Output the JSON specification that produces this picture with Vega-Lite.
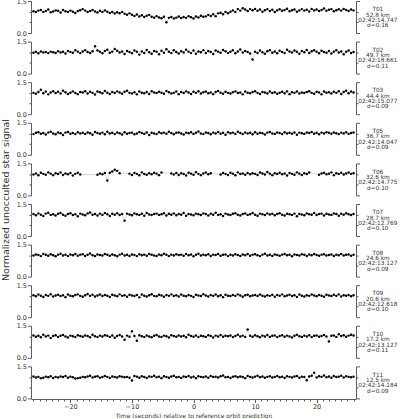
{
"$schema": "https://vega.github.io/schema/vega-lite/v6.json",
"padding": {"left": 0, "top": -2, "right": 0, "bottom": 0},
"config": {"font": "DejaVu Sans", "view": {"stroke": null},
 "axis": {"grid": false, "domainColor": "#333", "tickColor": "#333", "labelColor": "#333", "labelFontSize": 6.5, "domainWidth": 0.8, "tickWidth": 0.8, "titleFontWeight": "normal", "titleColor": "#333", "titleFontSize": 6, "labelOverlap": false}},
"datasets": {
"info": [
{"p":1,"lab":"T01|52.8 km|02:42:14.747|σ=0.16"},
{"p":2,"lab":"T02|49.7 km|02:42:18.661|σ=0.11"},
{"p":3,"lab":"T03|44.4 km|02:42:15.077|σ=0.09"},
{"p":4,"lab":"T05|36.7 km|02:42:14.047|σ=0.09"},
{"p":5,"lab":"T06|32.6 km|02:42:14.775|σ=0.10"},
{"p":6,"lab":"T07|28.7 km|02:42:12.769|σ=0.10"},
{"p":7,"lab":"T08|24.6 km|02:42:13.127|σ=0.09"},
{"p":8,"lab":"T09|20.6 km|02:42:12.618|σ=0.10"},
{"p":9,"lab":"T10|17.2 km|02:42:13.127|σ=0.11"},
{"p":10,"lab":"T11|12.5 km|02:42:14.184|σ=0.09"}
],
"pts": [
{"p":1,"t":-26,"v":1.02},{"p":1,"t":-25.6,"v":0.98},{"p":1,"t":-25.2,"v":1.05},{"p":1,"t":-24.8,"v":1.08},{"p":1,"t":-24.4,"v":0.99},{"p":1,"t":-24,"v":1.03},{"p":1,"t":-23.6,"v":1.10},{"p":1,"t":-23.2,"v":0.97},{"p":1,"t":-22.8,"v":1.01},{"p":1,"t":-22.4,"v":1.06},
{"p":1,"t":-22,"v":1.04},{"p":1,"t":-21.6,"v":0.96},{"p":1,"t":-21.2,"v":1.08},{"p":1,"t":-20.8,"v":1.02},{"p":1,"t":-20.4,"v":0.99},{"p":1,"t":-20,"v":1.05},{"p":1,"t":-19.6,"v":1.00},{"p":1,"t":-19.2,"v":0.94},{"p":1,"t":-18.8,"v":1.03},{"p":1,"t":-18.4,"v":1.07},
{"p":1,"t":-18,"v":1.12},{"p":1,"t":-17.6,"v":1.05},{"p":1,"t":-17.2,"v":0.98},{"p":1,"t":-16.8,"v":1.03},{"p":1,"t":-16.4,"v":1.08},{"p":1,"t":-16,"v":1.01},{"p":1,"t":-15.6,"v":0.96},{"p":1,"t":-15.2,"v":1.04},{"p":1,"t":-14.8,"v":0.99},{"p":1,"t":-14.4,"v":1.06},
{"p":1,"t":-14,"v":1.00},{"p":1,"t":-13.6,"v":0.94},{"p":1,"t":-13.2,"v":0.98},{"p":1,"t":-12.8,"v":0.91},{"p":1,"t":-12.4,"v":0.97},{"p":1,"t":-12,"v":0.93},{"p":1,"t":-11.6,"v":0.99},{"p":1,"t":-11.2,"v":0.90},{"p":1,"t":-10.8,"v":0.86},{"p":1,"t":-10.4,"v":0.92},
{"p":1,"t":-10,"v":0.86},{"p":1,"t":-9.6,"v":0.80},{"p":1,"t":-9.2,"v":0.87},{"p":1,"t":-8.8,"v":0.77},{"p":1,"t":-8.4,"v":0.83},{"p":1,"t":-8,"v":0.75},{"p":1,"t":-7.6,"v":0.81},{"p":1,"t":-7.2,"v":0.85},{"p":1,"t":-6.8,"v":0.76},{"p":1,"t":-6.4,"v":0.72},
{"p":1,"t":-6,"v":0.79},{"p":1,"t":-5.6,"v":0.73},{"p":1,"t":-5.2,"v":0.69},{"p":1,"t":-4.8,"v":0.76},{"p":1,"t":-4.4,"v":0.50},{"p":1,"t":-4,"v":0.71},{"p":1,"t":-3.6,"v":0.75},{"p":1,"t":-3.2,"v":0.68},{"p":1,"t":-2.8,"v":0.72},{"p":1,"t":-2.4,"v":0.77},
{"p":1,"t":-2,"v":0.70},{"p":1,"t":-1.6,"v":0.75},{"p":1,"t":-1.2,"v":0.71},{"p":1,"t":-0.8,"v":0.79},{"p":1,"t":-0.4,"v":0.74},{"p":1,"t":0,"v":0.68},{"p":1,"t":0.4,"v":0.77},{"p":1,"t":0.8,"v":0.73},{"p":1,"t":1.2,"v":0.81},{"p":1,"t":1.6,"v":0.76},
{"p":1,"t":2,"v":0.78},{"p":1,"t":2.4,"v":0.85},{"p":1,"t":2.8,"v":0.80},{"p":1,"t":3.2,"v":0.88},{"p":1,"t":3.6,"v":0.79},{"p":1,"t":4,"v":0.92},{"p":1,"t":4.4,"v":0.95},{"p":1,"t":4.8,"v":0.88},{"p":1,"t":5.2,"v":0.99},{"p":1,"t":5.6,"v":0.93},
{"p":1,"t":6,"v":1.00},{"p":1,"t":6.4,"v":1.06},{"p":1,"t":6.8,"v":0.98},{"p":1,"t":7.2,"v":1.12},{"p":1,"t":7.6,"v":1.05},{"p":1,"t":8,"v":1.16},{"p":1,"t":8.4,"v":1.10},{"p":1,"t":8.8,"v":1.03},{"p":1,"t":9.2,"v":1.12},{"p":1,"t":9.6,"v":1.07},
{"p":1,"t":10,"v":1.13},{"p":1,"t":10.4,"v":1.04},{"p":1,"t":10.8,"v":1.10},{"p":1,"t":11.2,"v":1.00},{"p":1,"t":11.6,"v":1.07},{"p":1,"t":12,"v":1.12},{"p":1,"t":12.4,"v":1.03},{"p":1,"t":12.8,"v":1.09},{"p":1,"t":13.2,"v":0.98},{"p":1,"t":13.6,"v":1.06},
{"p":1,"t":14,"v":1.11},{"p":1,"t":14.4,"v":1.04},{"p":1,"t":14.8,"v":1.08},{"p":1,"t":15.2,"v":1.14},{"p":1,"t":15.6,"v":1.02},{"p":1,"t":16,"v":1.07},{"p":1,"t":16.4,"v":1.10},{"p":1,"t":16.8,"v":1.00},{"p":1,"t":17.2,"v":1.06},{"p":1,"t":17.6,"v":1.12},
{"p":1,"t":18,"v":1.05},{"p":1,"t":18.4,"v":1.09},{"p":1,"t":18.8,"v":1.01},{"p":1,"t":19.2,"v":1.13},{"p":1,"t":19.6,"v":1.06},{"p":1,"t":20,"v":1.10},{"p":1,"t":20.4,"v":1.03},{"p":1,"t":20.8,"v":1.08},{"p":1,"t":21.2,"v":1.15},{"p":1,"t":21.6,"v":1.04},
{"p":1,"t":22,"v":1.09},{"p":1,"t":22.4,"v":1.12},{"p":1,"t":22.8,"v":1.02},{"p":1,"t":23.2,"v":1.07},{"p":1,"t":23.6,"v":1.11},{"p":1,"t":24,"v":1.05},{"p":1,"t":24.4,"v":1.13},{"p":1,"t":24.8,"v":1.08},{"p":1,"t":25.2,"v":1.03},{"p":1,"t":25.6,"v":1.10},{"p":1,"t":26,"v":1.06},
{"p":2,"t":-26,"v":0.98},{"p":2,"t":-25.6,"v":1.02},{"p":2,"t":-25.2,"v":0.95},{"p":2,"t":-24.8,"v":1.04},{"p":2,"t":-24.4,"v":0.99},{"p":2,"t":-24,"v":1.01},{"p":2,"t":-23.6,"v":0.96},{"p":2,"t":-23.2,"v":1.03},{"p":2,"t":-22.8,"v":1.00},{"p":2,"t":-22.4,"v":0.97},
{"p":2,"t":-22,"v":1.05},{"p":2,"t":-21.6,"v":0.99},{"p":2,"t":-21.2,"v":1.02},{"p":2,"t":-20.8,"v":0.94},{"p":2,"t":-20.4,"v":1.06},{"p":2,"t":-20,"v":1.01},{"p":2,"t":-19.6,"v":0.98},{"p":2,"t":-19.2,"v":1.09},{"p":2,"t":-18.8,"v":1.03},{"p":2,"t":-18.4,"v":0.96},
{"p":2,"t":-18,"v":1.04},{"p":2,"t":-17.6,"v":1.10},{"p":2,"t":-17.2,"v":1.01},{"p":2,"t":-16.8,"v":0.97},{"p":2,"t":-16.4,"v":1.05},{"p":2,"t":-16,"v":1.28},{"p":2,"t":-15.6,"v":1.08},{"p":2,"t":-15.2,"v":1.02},{"p":2,"t":-14.8,"v":0.95},{"p":2,"t":-14.4,"v":1.06},
{"p":2,"t":-14,"v":1.12},{"p":2,"t":-13.6,"v":0.98},{"p":2,"t":-13.2,"v":1.03},{"p":2,"t":-12.8,"v":1.15},{"p":2,"t":-12.4,"v":1.07},{"p":2,"t":-12,"v":0.99},{"p":2,"t":-11.6,"v":1.04},{"p":2,"t":-11.2,"v":0.92},{"p":2,"t":-10.8,"v":1.06},{"p":2,"t":-10.4,"v":1.01},
{"p":2,"t":-10,"v":0.95},{"p":2,"t":-9.6,"v":1.08},{"p":2,"t":-9.2,"v":1.02},{"p":2,"t":-8.8,"v":0.89},{"p":2,"t":-8.4,"v":1.04},{"p":2,"t":-8,"v":0.97},{"p":2,"t":-7.6,"v":1.11},{"p":2,"t":-7.2,"v":1.00},{"p":2,"t":-6.8,"v":0.93},{"p":2,"t":-6.4,"v":1.06},
{"p":2,"t":-6,"v":1.03},{"p":2,"t":-5.6,"v":0.91},{"p":2,"t":-5.2,"v":1.07},{"p":2,"t":-4.8,"v":0.98},{"p":2,"t":-4.4,"v":1.14},{"p":2,"t":-4,"v":1.02},{"p":2,"t":-3.6,"v":0.96},{"p":2,"t":-3.2,"v":1.09},{"p":2,"t":-2.8,"v":1.01},{"p":2,"t":-2.4,"v":0.94},
{"p":2,"t":-2,"v":1.05},{"p":2,"t":-1.6,"v":0.99},{"p":2,"t":-1.2,"v":1.12},{"p":2,"t":-0.8,"v":1.03},{"p":2,"t":-0.4,"v":0.96},{"p":2,"t":0,"v":1.08},{"p":2,"t":0.4,"v":0.93},{"p":2,"t":0.8,"v":1.04},{"p":2,"t":1.2,"v":1.00},{"p":2,"t":1.6,"v":1.10},
{"p":2,"t":2,"v":0.97},{"p":2,"t":2.4,"v":1.06},{"p":2,"t":2.8,"v":1.01},{"p":2,"t":3.2,"v":0.92},{"p":2,"t":3.6,"v":1.08},{"p":2,"t":4,"v":1.03},{"p":2,"t":4.4,"v":0.98},{"p":2,"t":4.8,"v":1.11},{"p":2,"t":5.2,"v":1.05},{"p":2,"t":5.6,"v":0.96},
{"p":2,"t":6,"v":1.02},{"p":2,"t":6.4,"v":1.09},{"p":2,"t":6.8,"v":0.95},{"p":2,"t":7.2,"v":1.04},{"p":2,"t":7.6,"v":1.13},{"p":2,"t":8,"v":0.99},{"p":2,"t":8.4,"v":1.06},{"p":2,"t":8.8,"v":1.01},{"p":2,"t":9.2,"v":0.94},{"p":2,"t":9.6,"v":0.66},
{"p":2,"t":10,"v":1.03},{"p":2,"t":10.4,"v":0.97},{"p":2,"t":10.8,"v":1.08},{"p":2,"t":11.2,"v":1.00},{"p":2,"t":11.6,"v":0.93},{"p":2,"t":12,"v":1.05},{"p":2,"t":12.4,"v":1.10},{"p":2,"t":12.8,"v":0.98},{"p":2,"t":13.2,"v":1.04},{"p":2,"t":13.6,"v":0.95},
{"p":2,"t":14,"v":1.07},{"p":2,"t":14.4,"v":1.01},{"p":2,"t":14.8,"v":0.96},{"p":2,"t":15.2,"v":1.12},{"p":2,"t":15.6,"v":1.04},{"p":2,"t":16,"v":0.99},{"p":2,"t":16.4,"v":1.08},{"p":2,"t":16.8,"v":1.02},{"p":2,"t":17.2,"v":0.93},{"p":2,"t":17.6,"v":1.06},
{"p":2,"t":18,"v":1.00},{"p":2,"t":18.4,"v":1.11},{"p":2,"t":18.8,"v":0.97},{"p":2,"t":19.2,"v":1.05},{"p":2,"t":19.6,"v":1.09},{"p":2,"t":20,"v":1.02},{"p":2,"t":20.4,"v":0.95},{"p":2,"t":20.8,"v":1.07},{"p":2,"t":21.2,"v":1.01},{"p":2,"t":21.6,"v":0.98},
{"p":2,"t":22,"v":1.06},{"p":2,"t":22.4,"v":0.94},{"p":2,"t":22.8,"v":1.03},{"p":2,"t":23.2,"v":1.10},{"p":2,"t":23.6,"v":0.99},{"p":2,"t":24,"v":1.04},{"p":2,"t":24.4,"v":0.91},{"p":2,"t":24.8,"v":1.02},{"p":2,"t":25.2,"v":1.08},{"p":2,"t":25.6,"v":0.97},{"p":2,"t":26,"v":1.01},
{"p":3,"t":-26,"v":1.00},{"p":3,"t":-25.6,"v":0.96},{"p":3,"t":-25.2,"v":1.04},{"p":3,"t":-24.8,"v":1.15},{"p":3,"t":-24.4,"v":0.98},{"p":3,"t":-24,"v":1.06},{"p":3,"t":-23.6,"v":0.93},{"p":3,"t":-23.2,"v":1.02},{"p":3,"t":-22.8,"v":1.08},{"p":3,"t":-22.4,"v":0.99},
{"p":3,"t":-22,"v":1.05},{"p":3,"t":-21.6,"v":0.97},{"p":3,"t":-21.2,"v":1.10},{"p":3,"t":-20.8,"v":1.03},{"p":3,"t":-20.4,"v":0.95},{"p":3,"t":-20,"v":1.01},{"p":3,"t":-19.6,"v":1.07},{"p":3,"t":-19.2,"v":0.99},{"p":3,"t":-18.8,"v":0.94},{"p":3,"t":-18.4,"v":1.04},
{"p":3,"t":-18,"v":1.02},{"p":3,"t":-17.6,"v":1.08},{"p":3,"t":-17.2,"v":0.97},{"p":3,"t":-16.8,"v":1.05},{"p":3,"t":-16.4,"v":1.00},{"p":3,"t":-16,"v":0.92},{"p":3,"t":-15.6,"v":1.06},{"p":3,"t":-15.2,"v":1.03},{"p":3,"t":-14.8,"v":0.98},{"p":3,"t":-14.4,"v":1.09},
{"p":3,"t":-14,"v":1.01},{"p":3,"t":-13.6,"v":0.95},{"p":3,"t":-13.2,"v":1.04},{"p":3,"t":-12.8,"v":0.99},{"p":3,"t":-12.4,"v":1.07},{"p":3,"t":-12,"v":1.02},{"p":3,"t":-11.6,"v":0.96},{"p":3,"t":-11.2,"v":1.05},{"p":3,"t":-10.8,"v":1.10},{"p":3,"t":-10.4,"v":1.00},
{"p":3,"t":-10,"v":0.97},{"p":3,"t":-9.6,"v":1.03},{"p":3,"t":-9.2,"v":0.93},{"p":3,"t":-8.8,"v":1.06},{"p":3,"t":-8.4,"v":1.01},{"p":3,"t":-8,"v":0.98},{"p":3,"t":-7.6,"v":1.04},{"p":3,"t":-7.2,"v":0.95},{"p":3,"t":-6.8,"v":1.08},{"p":3,"t":-6.4,"v":1.02},
{"p":3,"t":-6,"v":0.99},{"p":3,"t":-5.6,"v":1.05},{"p":3,"t":-5.2,"v":1.01},{"p":3,"t":-4.8,"v":0.96},{"p":3,"t":-4.4,"v":1.09},{"p":3,"t":-4,"v":1.03},{"p":3,"t":-3.6,"v":0.97},{"p":3,"t":-3.2,"v":1.00},{"p":3,"t":-2.8,"v":1.06},{"p":3,"t":-2.4,"v":0.94},
{"p":3,"t":-2,"v":1.04},{"p":3,"t":-1.6,"v":0.99},{"p":3,"t":-1.2,"v":1.07},{"p":3,"t":-0.8,"v":1.02},{"p":3,"t":-0.4,"v":0.95},{"p":3,"t":0,"v":1.05},{"p":3,"t":0.4,"v":1.00},{"p":3,"t":0.8,"v":1.08},{"p":3,"t":1.2,"v":0.97},{"p":3,"t":1.6,"v":1.03},
{"p":3,"t":2,"v":1.06},{"p":3,"t":2.4,"v":0.98},{"p":3,"t":2.8,"v":1.02},{"p":3,"t":3.2,"v":0.94},{"p":3,"t":3.6,"v":1.04},{"p":3,"t":4,"v":1.09},{"p":3,"t":4.4,"v":1.01},{"p":3,"t":4.8,"v":0.96},{"p":3,"t":5.2,"v":1.05},{"p":3,"t":5.6,"v":1.00},
{"p":3,"t":6,"v":0.97},{"p":3,"t":6.4,"v":1.03},{"p":3,"t":6.8,"v":1.07},{"p":3,"t":7.2,"v":0.99},{"p":3,"t":7.6,"v":1.02},{"p":3,"t":8,"v":0.93},{"p":3,"t":8.4,"v":1.06},{"p":3,"t":8.8,"v":1.01},{"p":3,"t":9.2,"v":0.98},{"p":3,"t":9.6,"v":1.04},
{"p":3,"t":10,"v":1.08},{"p":3,"t":10.4,"v":1.00},{"p":3,"t":10.8,"v":0.95},{"p":3,"t":11.2,"v":1.04},{"p":3,"t":11.6,"v":1.02},{"p":3,"t":12,"v":0.97},{"p":3,"t":12.4,"v":1.06},{"p":3,"t":12.8,"v":0.99},{"p":3,"t":13.2,"v":1.03},{"p":3,"t":13.6,"v":0.96},
{"p":3,"t":14,"v":1.01},{"p":3,"t":14.4,"v":1.05},{"p":3,"t":14.8,"v":0.98},{"p":3,"t":15.2,"v":1.07},{"p":3,"t":15.6,"v":0.94},{"p":3,"t":16,"v":1.03},{"p":3,"t":16.4,"v":1.00},{"p":3,"t":16.8,"v":1.06},{"p":3,"t":17.2,"v":0.97},{"p":3,"t":17.6,"v":1.02},
{"p":3,"t":18,"v":0.99},{"p":3,"t":18.4,"v":1.04},{"p":3,"t":18.8,"v":1.08},{"p":3,"t":19.2,"v":1.00},{"p":3,"t":19.6,"v":0.96},{"p":3,"t":20,"v":1.05},{"p":3,"t":20.4,"v":1.02},{"p":3,"t":20.8,"v":0.93},{"p":3,"t":21.2,"v":1.06},{"p":3,"t":21.6,"v":1.01},
{"p":3,"t":22,"v":1.03},{"p":3,"t":22.4,"v":0.97},{"p":3,"t":22.8,"v":1.05},{"p":3,"t":23.2,"v":1.00},{"p":3,"t":23.6,"v":1.08},{"p":3,"t":24,"v":0.95},{"p":3,"t":24.4,"v":1.04},{"p":3,"t":24.8,"v":1.10},{"p":3,"t":25.2,"v":0.98},{"p":3,"t":25.6,"v":1.06},{"p":3,"t":26,"v":1.02},
{"p":4,"t":-26,"v":0.97},{"p":4,"t":-25.6,"v":1.03},{"p":4,"t":-25.2,"v":1.06},{"p":4,"t":-24.8,"v":0.99},{"p":4,"t":-24.4,"v":1.02},{"p":4,"t":-24,"v":0.95},{"p":4,"t":-23.6,"v":1.04},{"p":4,"t":-23.2,"v":1.08},{"p":4,"t":-22.8,"v":1.00},{"p":4,"t":-22.4,"v":0.96},
{"p":4,"t":-22,"v":1.05},{"p":4,"t":-21.6,"v":1.01},{"p":4,"t":-21.2,"v":0.93},{"p":4,"t":-20.8,"v":1.04},{"p":4,"t":-20.4,"v":1.07},{"p":4,"t":-20,"v":0.99},{"p":4,"t":-19.6,"v":1.02},{"p":4,"t":-19.2,"v":0.97},{"p":4,"t":-18.8,"v":1.06},{"p":4,"t":-18.4,"v":1.00},
{"p":4,"t":-18,"v":1.03},{"p":4,"t":-17.6,"v":0.98},{"p":4,"t":-17.2,"v":1.05},{"p":4,"t":-16.8,"v":1.01},{"p":4,"t":-16.4,"v":0.94},{"p":4,"t":-16,"v":1.07},{"p":4,"t":-15.6,"v":1.02},{"p":4,"t":-15.2,"v":0.99},{"p":4,"t":-14.8,"v":1.04},{"p":4,"t":-14.4,"v":0.96},
{"p":4,"t":-14,"v":1.08},{"p":4,"t":-13.6,"v":1.00},{"p":4,"t":-13.2,"v":1.03},{"p":4,"t":-12.8,"v":0.97},{"p":4,"t":-12.4,"v":1.05},{"p":4,"t":-12,"v":1.01},{"p":4,"t":-11.6,"v":0.95},{"p":4,"t":-11.2,"v":1.06},{"p":4,"t":-10.8,"v":0.99},{"p":4,"t":-10.4,"v":1.02},
{"p":4,"t":-10,"v":1.04},{"p":4,"t":-9.6,"v":0.96},{"p":4,"t":-9.2,"v":1.00},{"p":4,"t":-8.8,"v":1.07},{"p":4,"t":-8.4,"v":1.02},{"p":4,"t":-8,"v":0.98},{"p":4,"t":-7.6,"v":1.05},{"p":4,"t":-7.2,"v":0.93},{"p":4,"t":-6.8,"v":1.03},{"p":4,"t":-6.4,"v":1.00},
{"p":4,"t":-6,"v":0.97},{"p":4,"t":-5.6,"v":1.06},{"p":4,"t":-5.2,"v":1.01},{"p":4,"t":-4.8,"v":1.04},{"p":4,"t":-4.4,"v":0.99},{"p":4,"t":-4,"v":1.08},{"p":4,"t":-3.6,"v":1.02},{"p":4,"t":-3.2,"v":0.96},{"p":4,"t":-2.8,"v":1.03},{"p":4,"t":-2.4,"v":1.05},
{"p":4,"t":-2,"v":1.00},{"p":4,"t":-1.6,"v":0.95},{"p":4,"t":-1.2,"v":1.04},{"p":4,"t":-0.8,"v":1.01},{"p":4,"t":-0.4,"v":1.06},{"p":4,"t":0,"v":0.98},{"p":4,"t":0.4,"v":1.03},{"p":4,"t":0.8,"v":1.09},{"p":4,"t":1.2,"v":1.00},{"p":4,"t":1.6,"v":0.97},
{"p":4,"t":2,"v":1.05},{"p":4,"t":2.4,"v":1.02},{"p":4,"t":2.8,"v":0.96},{"p":4,"t":3.2,"v":1.04},{"p":4,"t":3.6,"v":1.00},{"p":4,"t":4,"v":1.07},{"p":4,"t":4.4,"v":0.99},{"p":4,"t":4.8,"v":1.03},{"p":4,"t":5.2,"v":0.94},{"p":4,"t":5.6,"v":1.06},
{"p":4,"t":6,"v":1.01},{"p":4,"t":6.4,"v":1.04},{"p":4,"t":6.8,"v":0.98},{"p":4,"t":7.2,"v":1.08},{"p":4,"t":7.6,"v":1.02},{"p":4,"t":8,"v":0.97},{"p":4,"t":8.4,"v":1.05},{"p":4,"t":8.8,"v":1.00},{"p":4,"t":9.2,"v":1.03},{"p":4,"t":9.6,"v":0.96},
{"p":4,"t":10,"v":1.06},{"p":4,"t":10.4,"v":0.99},{"p":4,"t":10.8,"v":1.03},{"p":4,"t":11.2,"v":1.01},{"p":4,"t":11.6,"v":0.95},{"p":4,"t":12,"v":1.04},{"p":4,"t":12.4,"v":1.07},{"p":4,"t":12.8,"v":1.00},{"p":4,"t":13.2,"v":0.98},{"p":4,"t":13.6,"v":1.05},
{"p":4,"t":14,"v":1.02},{"p":4,"t":14.4,"v":0.97},{"p":4,"t":14.8,"v":1.06},{"p":4,"t":15.2,"v":1.00},{"p":4,"t":15.6,"v":1.03},{"p":4,"t":16,"v":0.99},{"p":4,"t":16.4,"v":1.05},{"p":4,"t":16.8,"v":0.94},{"p":4,"t":17.2,"v":1.04},{"p":4,"t":17.6,"v":1.01},
{"p":4,"t":18,"v":0.98},{"p":4,"t":18.4,"v":1.05},{"p":4,"t":18.8,"v":1.02},{"p":4,"t":19.2,"v":1.07},{"p":4,"t":19.6,"v":0.99},{"p":4,"t":20,"v":1.03},{"p":4,"t":20.4,"v":0.96},{"p":4,"t":20.8,"v":1.04},{"p":4,"t":21.2,"v":1.00},{"p":4,"t":21.6,"v":1.06},
{"p":4,"t":22,"v":1.03},{"p":4,"t":22.4,"v":0.99},{"p":4,"t":22.8,"v":1.05},{"p":4,"t":23.2,"v":1.01},{"p":4,"t":23.6,"v":0.97},{"p":4,"t":24,"v":1.04},{"p":4,"t":24.4,"v":1.00},{"p":4,"t":24.8,"v":1.06},{"p":4,"t":25.2,"v":0.98},{"p":4,"t":25.6,"v":1.02},{"p":4,"t":26,"v":1.05},
{"p":5,"t":-26,"v":0.98},{"p":5,"t":-25.6,"v":1.03},{"p":5,"t":-25.2,"v":0.94},{"p":5,"t":-24.8,"v":1.06},{"p":5,"t":-24.4,"v":1.01},{"p":5,"t":-24,"v":0.97},{"p":5,"t":-23.6,"v":1.08},{"p":5,"t":-23.2,"v":1.02},{"p":5,"t":-22.8,"v":0.95},{"p":5,"t":-22.4,"v":1.04},
{"p":5,"t":-22,"v":1.00},{"p":5,"t":-21.6,"v":1.07},{"p":5,"t":-21.2,"v":0.96},{"p":5,"t":-20.8,"v":1.03},{"p":5,"t":-20.4,"v":0.99},{"p":5,"t":-20,"v":1.05},{"p":5,"t":-19.6,"v":0.93},{"p":5,"t":-19.2,"v":1.01},{"p":5,"t":-18.8,"v":1.06},{"p":5,"t":-18.4,"v":0.98},
{"p":5,"t":-15.6,"v":0.97},{"p":5,"t":-15.2,"v":1.03},{"p":5,"t":-14.8,"v":0.99},{"p":5,"t":-14.4,"v":1.05},
{"p":5,"t":-14,"v":0.70},{"p":5,"t":-13.6,"v":1.06},{"p":5,"t":-13.2,"v":1.12},{"p":5,"t":-12.8,"v":1.20},{"p":5,"t":-12.4,"v":1.15},{"p":5,"t":-12,"v":1.04},{"p":5,"t":-10.4,"v":1.02},
{"p":5,"t":-10,"v":0.96},{"p":5,"t":-9.6,"v":1.05},{"p":5,"t":-9.2,"v":1.01},{"p":5,"t":-8.8,"v":0.94},{"p":5,"t":-8.4,"v":1.08},{"p":5,"t":-8,"v":1.00},{"p":5,"t":-7.6,"v":0.97},{"p":5,"t":-7.2,"v":1.04},{"p":5,"t":-6.8,"v":0.99},{"p":5,"t":-6.4,"v":1.06},
{"p":5,"t":-6,"v":1.02},{"p":5,"t":-5.6,"v":0.95},{"p":5,"t":-5.2,"v":1.07},{"p":5,"t":-3.6,"v":1.03},{"p":5,"t":-3.2,"v":0.98},{"p":5,"t":-2.8,"v":1.05},{"p":5,"t":-2.4,"v":0.96},
{"p":5,"t":-2,"v":1.04},{"p":5,"t":-1.6,"v":1.00},{"p":5,"t":-1.2,"v":0.93},{"p":5,"t":-0.8,"v":1.06},{"p":5,"t":-0.4,"v":1.02},{"p":5,"t":0,"v":0.97},{"p":5,"t":0.4,"v":1.09},{"p":5,"t":0.8,"v":1.01},{"p":5,"t":1.2,"v":0.95},{"p":5,"t":1.6,"v":1.03},
{"p":5,"t":2,"v":1.07},{"p":5,"t":2.4,"v":0.99},{"p":5,"t":2.8,"v":1.04},{"p":5,"t":4.4,"v":0.98},{"p":5,"t":4.8,"v":1.05},{"p":5,"t":5.2,"v":1.01},{"p":5,"t":5.6,"v":0.96},
{"p":5,"t":6,"v":1.06},{"p":5,"t":6.4,"v":1.02},{"p":5,"t":6.8,"v":0.94},{"p":5,"t":7.2,"v":1.08},{"p":5,"t":7.6,"v":1.00},{"p":5,"t":8,"v":1.03},{"p":5,"t":8.4,"v":0.97},{"p":5,"t":8.8,"v":1.05},{"p":5,"t":9.2,"v":0.99},{"p":5,"t":9.6,"v":1.04},
{"p":5,"t":10,"v":1.01},{"p":5,"t":10.4,"v":0.96},{"p":5,"t":10.8,"v":1.07},{"p":5,"t":11.2,"v":1.03},{"p":5,"t":11.6,"v":0.98},{"p":5,"t":12,"v":1.10},{"p":5,"t":12.4,"v":1.02},{"p":5,"t":12.8,"v":0.95},{"p":5,"t":13.2,"v":1.04},{"p":5,"t":13.6,"v":1.00},
{"p":5,"t":14,"v":1.06},{"p":5,"t":14.4,"v":0.99},{"p":5,"t":14.8,"v":1.03},{"p":5,"t":15.2,"v":0.93},{"p":5,"t":15.6,"v":1.05},{"p":5,"t":16,"v":1.01},{"p":5,"t":16.4,"v":0.97},{"p":5,"t":16.8,"v":1.08},{"p":5,"t":17.2,"v":1.02},{"p":5,"t":17.6,"v":0.96},
{"p":5,"t":18,"v":1.04},{"p":5,"t":18.4,"v":1.00},{"p":5,"t":18.8,"v":1.07},{"p":5,"t":20.4,"v":0.97},{"p":5,"t":20.8,"v":1.03},{"p":5,"t":21.2,"v":1.06},{"p":5,"t":21.6,"v":0.99},
{"p":5,"t":22,"v":1.02},{"p":5,"t":22.4,"v":1.08},{"p":5,"t":22.8,"v":0.95},{"p":5,"t":23.2,"v":1.04},{"p":5,"t":23.6,"v":1.00},{"p":5,"t":24,"v":1.06},{"p":5,"t":24.4,"v":0.98},{"p":5,"t":24.8,"v":1.03},{"p":5,"t":25.2,"v":1.07},{"p":5,"t":25.6,"v":1.01},{"p":5,"t":26,"v":1.04},
{"p":6,"t":-26,"v":1.03},{"p":6,"t":-25.6,"v":0.97},{"p":6,"t":-25.2,"v":1.06},{"p":6,"t":-24.8,"v":1.00},{"p":6,"t":-24.4,"v":0.94},{"p":6,"t":-24,"v":1.05},{"p":6,"t":-23.6,"v":1.09},{"p":6,"t":-23.2,"v":0.99},{"p":6,"t":-22.8,"v":1.02},{"p":6,"t":-22.4,"v":0.96},
{"p":6,"t":-22,"v":1.04},{"p":6,"t":-21.6,"v":1.08},{"p":6,"t":-21.2,"v":1.00},{"p":6,"t":-20.8,"v":0.95},{"p":6,"t":-20.4,"v":1.03},{"p":6,"t":-20,"v":1.07},{"p":6,"t":-19.6,"v":0.98},{"p":6,"t":-19.2,"v":1.02},{"p":6,"t":-18.8,"v":0.93},{"p":6,"t":-18.4,"v":1.05},
{"p":6,"t":-18,"v":1.01},{"p":6,"t":-17.6,"v":0.97},{"p":6,"t":-17.2,"v":1.06},{"p":6,"t":-16.8,"v":1.10},{"p":6,"t":-16.4,"v":1.00},{"p":6,"t":-16,"v":1.03},{"p":6,"t":-15.6,"v":0.96},{"p":6,"t":-15.2,"v":1.05},{"p":6,"t":-14.8,"v":0.99},{"p":6,"t":-14.4,"v":1.08},
{"p":6,"t":-14,"v":1.02},{"p":6,"t":-13.6,"v":0.94},{"p":6,"t":-13.2,"v":1.04},{"p":6,"t":-12.8,"v":1.00},{"p":6,"t":-12.4,"v":1.07},{"p":6,"t":-12,"v":0.98},{"p":6,"t":-11.6,"v":1.03},{"p":6,"t":-11.2,"v":0.72},{"p":6,"t":-10.8,"v":1.05},{"p":6,"t":-10.4,"v":1.01},
{"p":6,"t":-10,"v":0.97},{"p":6,"t":-9.6,"v":1.06},{"p":6,"t":-9.2,"v":1.02},{"p":6,"t":-8.8,"v":0.99},{"p":6,"t":-8.4,"v":1.04},{"p":6,"t":-8,"v":0.95},{"p":6,"t":-7.6,"v":1.08},{"p":6,"t":-7.2,"v":1.01},{"p":6,"t":-6.8,"v":0.98},{"p":6,"t":-6.4,"v":1.03},
{"p":6,"t":-6,"v":1.05},{"p":6,"t":-5.6,"v":0.99},{"p":6,"t":-5.2,"v":1.02},{"p":6,"t":-4.8,"v":1.07},{"p":6,"t":-4.4,"v":0.96},{"p":6,"t":-4,"v":1.04},{"p":6,"t":-3.6,"v":1.00},{"p":6,"t":-3.2,"v":1.06},{"p":6,"t":-2.8,"v":0.97},{"p":6,"t":-2.4,"v":1.03},
{"p":6,"t":-2,"v":1.00},{"p":6,"t":-1.6,"v":1.08},{"p":6,"t":-1.2,"v":0.95},{"p":6,"t":-0.8,"v":1.03},{"p":6,"t":-0.4,"v":1.01},{"p":6,"t":0,"v":0.97},{"p":6,"t":0.4,"v":1.05},{"p":6,"t":0.8,"v":1.02},{"p":6,"t":1.2,"v":0.98},{"p":6,"t":1.6,"v":1.06},
{"p":6,"t":2,"v":1.03},{"p":6,"t":2.4,"v":0.96},{"p":6,"t":2.8,"v":1.04},{"p":6,"t":3.2,"v":1.00},{"p":6,"t":3.6,"v":1.09},{"p":6,"t":4,"v":0.99},{"p":6,"t":4.4,"v":1.02},{"p":6,"t":4.8,"v":0.94},{"p":6,"t":5.2,"v":1.05},{"p":6,"t":5.6,"v":1.01},
{"p":6,"t":6,"v":0.98},{"p":6,"t":6.4,"v":1.04},{"p":6,"t":6.8,"v":1.07},{"p":6,"t":7.2,"v":1.00},{"p":6,"t":7.6,"v":0.96},{"p":6,"t":8,"v":1.03},{"p":6,"t":8.4,"v":1.06},{"p":6,"t":8.8,"v":0.99},{"p":6,"t":9.2,"v":1.02},{"p":6,"t":9.6,"v":1.08},
{"p":6,"t":10,"v":1.00},{"p":6,"t":10.4,"v":0.95},{"p":6,"t":10.8,"v":1.05},{"p":6,"t":11.2,"v":1.02},{"p":6,"t":11.6,"v":0.98},{"p":6,"t":12,"v":1.06},{"p":6,"t":12.4,"v":1.01},{"p":6,"t":12.8,"v":1.04},{"p":6,"t":13.2,"v":0.97},{"p":6,"t":13.6,"v":1.03},
{"p":6,"t":14,"v":1.07},{"p":6,"t":14.4,"v":1.00},{"p":6,"t":14.8,"v":0.96},{"p":6,"t":15.2,"v":1.04},{"p":6,"t":15.6,"v":1.02},{"p":6,"t":16,"v":0.99},{"p":6,"t":16.4,"v":1.05},{"p":6,"t":16.8,"v":0.93},{"p":6,"t":17.2,"v":1.03},{"p":6,"t":17.6,"v":1.01},
{"p":6,"t":18,"v":0.97},{"p":6,"t":18.4,"v":1.06},{"p":6,"t":18.8,"v":1.02},{"p":6,"t":19.2,"v":1.00},{"p":6,"t":19.6,"v":1.08},{"p":6,"t":20,"v":0.98},{"p":6,"t":20.4,"v":1.03},{"p":6,"t":20.8,"v":1.05},{"p":6,"t":21.2,"v":0.96},{"p":6,"t":21.6,"v":1.04},
{"p":6,"t":22,"v":1.01},{"p":6,"t":22.4,"v":0.99},{"p":6,"t":22.8,"v":1.06},{"p":6,"t":23.2,"v":1.03},{"p":6,"t":23.6,"v":0.95},{"p":6,"t":24,"v":1.04},{"p":6,"t":24.4,"v":1.00},{"p":6,"t":24.8,"v":1.07},{"p":6,"t":25.2,"v":1.02},{"p":6,"t":25.6,"v":0.98},{"p":6,"t":26,"v":1.03},
{"p":7,"t":-26,"v":0.99},{"p":7,"t":-25.6,"v":1.04},{"p":7,"t":-25.2,"v":1.01},{"p":7,"t":-24.8,"v":0.96},{"p":7,"t":-24.4,"v":1.06},{"p":7,"t":-24,"v":1.02},{"p":7,"t":-23.6,"v":0.98},{"p":7,"t":-23.2,"v":1.05},{"p":7,"t":-22.8,"v":1.00},{"p":7,"t":-22.4,"v":0.95},
{"p":7,"t":-22,"v":1.03},{"p":7,"t":-21.6,"v":1.07},{"p":7,"t":-21.2,"v":0.99},{"p":7,"t":-20.8,"v":1.02},{"p":7,"t":-20.4,"v":0.96},{"p":7,"t":-20,"v":1.04},{"p":7,"t":-19.6,"v":1.00},{"p":7,"t":-19.2,"v":1.06},{"p":7,"t":-18.8,"v":0.98},{"p":7,"t":-18.4,"v":1.03},
{"p":7,"t":-18,"v":1.05},{"p":7,"t":-17.6,"v":0.97},{"p":7,"t":-17.2,"v":1.02},{"p":7,"t":-16.8,"v":1.08},{"p":7,"t":-16.4,"v":1.00},{"p":7,"t":-16,"v":0.96},{"p":7,"t":-15.6,"v":1.04},{"p":7,"t":-15.2,"v":1.01},{"p":7,"t":-14.8,"v":0.99},{"p":7,"t":-14.4,"v":1.06},
{"p":7,"t":-14,"v":1.02},{"p":7,"t":-13.6,"v":0.98},{"p":7,"t":-13.2,"v":1.04},{"p":7,"t":-12.8,"v":1.00},{"p":7,"t":-12.4,"v":0.95},{"p":7,"t":-12,"v":1.03},{"p":7,"t":-11.6,"v":1.07},{"p":7,"t":-11.2,"v":0.99},{"p":7,"t":-10.8,"v":1.02},{"p":7,"t":-10.4,"v":0.97},
{"p":7,"t":-10,"v":1.04},{"p":7,"t":-9.6,"v":1.01},{"p":7,"t":-9.2,"v":0.96},{"p":7,"t":-8.8,"v":1.05},{"p":7,"t":-8.4,"v":1.00},{"p":7,"t":-8,"v":1.03},{"p":7,"t":-7.6,"v":0.98},{"p":7,"t":-7.2,"v":1.06},{"p":7,"t":-6.8,"v":1.02},{"p":7,"t":-6.4,"v":0.99},
{"p":7,"t":-6,"v":0.97},{"p":7,"t":-5.6,"v":1.04},{"p":7,"t":-5.2,"v":1.00},{"p":7,"t":-4.8,"v":1.07},{"p":7,"t":-4.4,"v":1.02},{"p":7,"t":-4,"v":0.96},{"p":7,"t":-3.6,"v":1.03},{"p":7,"t":-3.2,"v":0.99},{"p":7,"t":-2.8,"v":1.05},{"p":7,"t":-2.4,"v":1.01},
{"p":7,"t":-2,"v":1.03},{"p":7,"t":-1.6,"v":0.98},{"p":7,"t":-1.2,"v":1.06},{"p":7,"t":-0.8,"v":1.00},{"p":7,"t":-0.4,"v":1.04},{"p":7,"t":0,"v":0.95},{"p":7,"t":0.4,"v":1.02},{"p":7,"t":0.8,"v":1.07},{"p":7,"t":1.2,"v":0.99},{"p":7,"t":1.6,"v":1.03},
{"p":7,"t":2,"v":1.00},{"p":7,"t":2.4,"v":1.05},{"p":7,"t":2.8,"v":0.97},{"p":7,"t":3.2,"v":1.03},{"p":7,"t":3.6,"v":1.01},{"p":7,"t":4,"v":1.06},{"p":7,"t":4.4,"v":0.98},{"p":7,"t":4.8,"v":1.02},{"p":7,"t":5.2,"v":1.04},{"p":7,"t":5.6,"v":0.96},
{"p":7,"t":6,"v":1.02},{"p":7,"t":6.4,"v":0.99},{"p":7,"t":6.8,"v":1.05},{"p":7,"t":7.2,"v":1.01},{"p":7,"t":7.6,"v":0.97},{"p":7,"t":8,"v":1.04},{"p":7,"t":8.4,"v":1.00},{"p":7,"t":8.8,"v":1.06},{"p":7,"t":9.2,"v":0.98},{"p":7,"t":9.6,"v":1.03},
{"p":7,"t":10,"v":1.05},{"p":7,"t":10.4,"v":1.00},{"p":7,"t":10.8,"v":0.96},{"p":7,"t":11.2,"v":1.03},{"p":7,"t":11.6,"v":1.07},{"p":7,"t":12,"v":0.99},{"p":7,"t":12.4,"v":1.02},{"p":7,"t":12.8,"v":0.97},{"p":7,"t":13.2,"v":1.04},{"p":7,"t":13.6,"v":1.01},
{"p":7,"t":14,"v":0.98},{"p":7,"t":14.4,"v":1.03},{"p":7,"t":14.8,"v":1.06},{"p":7,"t":15.2,"v":1.00},{"p":7,"t":15.6,"v":1.02},{"p":7,"t":16,"v":0.95},{"p":7,"t":16.4,"v":1.04},{"p":7,"t":16.8,"v":1.01},{"p":7,"t":17.2,"v":0.99},{"p":7,"t":17.6,"v":1.05},
{"p":7,"t":18,"v":1.02},{"p":7,"t":18.4,"v":0.97},{"p":7,"t":18.8,"v":1.04},{"p":7,"t":19.2,"v":1.00},{"p":7,"t":19.6,"v":1.06},{"p":7,"t":20,"v":1.01},{"p":7,"t":20.4,"v":0.98},{"p":7,"t":20.8,"v":1.03},{"p":7,"t":21.2,"v":1.05},{"p":7,"t":21.6,"v":0.99},
{"p":7,"t":22,"v":1.01},{"p":7,"t":22.4,"v":1.04},{"p":7,"t":22.8,"v":0.97},{"p":7,"t":23.2,"v":1.03},{"p":7,"t":23.6,"v":1.00},{"p":7,"t":24,"v":1.06},{"p":7,"t":24.4,"v":0.99},{"p":7,"t":24.8,"v":1.02},{"p":7,"t":25.2,"v":1.04},{"p":7,"t":25.6,"v":0.98},{"p":7,"t":26,"v":1.02},
{"p":8,"t":-26,"v":1.03},{"p":8,"t":-25.6,"v":0.98},{"p":8,"t":-25.2,"v":1.06},{"p":8,"t":-24.8,"v":1.01},{"p":8,"t":-24.4,"v":0.95},{"p":8,"t":-24,"v":1.04},{"p":8,"t":-23.6,"v":1.00},{"p":8,"t":-23.2,"v":1.08},{"p":8,"t":-22.8,"v":0.97},{"p":8,"t":-22.4,"v":1.02},
{"p":8,"t":-22,"v":1.05},{"p":8,"t":-21.6,"v":0.99},{"p":8,"t":-21.2,"v":1.03},{"p":8,"t":-20.8,"v":0.94},{"p":8,"t":-20.4,"v":1.06},{"p":8,"t":-20,"v":1.01},{"p":8,"t":-19.6,"v":0.98},{"p":8,"t":-19.2,"v":1.04},{"p":8,"t":-18.8,"v":1.07},{"p":8,"t":-18.4,"v":1.00},
{"p":8,"t":-18,"v":0.96},{"p":8,"t":-17.6,"v":1.03},{"p":8,"t":-17.2,"v":1.09},{"p":8,"t":-16.8,"v":1.00},{"p":8,"t":-16.4,"v":1.05},{"p":8,"t":-16,"v":0.97},{"p":8,"t":-15.6,"v":1.02},{"p":8,"t":-15.2,"v":1.06},{"p":8,"t":-14.8,"v":0.99},{"p":8,"t":-14.4,"v":1.04},
{"p":8,"t":-14,"v":1.01},{"p":8,"t":-13.6,"v":0.95},{"p":8,"t":-13.2,"v":1.05},{"p":8,"t":-12.8,"v":1.02},{"p":8,"t":-12.4,"v":0.98},{"p":8,"t":-12,"v":1.07},{"p":8,"t":-11.6,"v":1.00},{"p":8,"t":-11.2,"v":1.03},{"p":8,"t":-10.8,"v":0.96},{"p":8,"t":-10.4,"v":1.05},
{"p":8,"t":-10,"v":1.02},{"p":8,"t":-9.6,"v":0.99},{"p":8,"t":-9.2,"v":1.04},{"p":8,"t":-8.8,"v":0.93},{"p":8,"t":-8.4,"v":1.06},{"p":8,"t":-8,"v":1.01},{"p":8,"t":-7.6,"v":0.97},{"p":8,"t":-7.2,"v":1.03},{"p":8,"t":-6.8,"v":1.08},{"p":8,"t":-6.4,"v":1.00},
{"p":8,"t":-6,"v":0.98},{"p":8,"t":-5.6,"v":1.05},{"p":8,"t":-5.2,"v":1.02},{"p":8,"t":-4.8,"v":0.96},{"p":8,"t":-4.4,"v":1.04},{"p":8,"t":-4,"v":1.00},{"p":8,"t":-3.6,"v":1.07},{"p":8,"t":-3.2,"v":0.99},{"p":8,"t":-2.8,"v":1.03},{"p":8,"t":-2.4,"v":0.97},
{"p":8,"t":-2,"v":1.06},{"p":8,"t":-1.6,"v":1.01},{"p":8,"t":-1.2,"v":0.98},{"p":8,"t":-0.8,"v":1.04},{"p":8,"t":-0.4,"v":1.00},{"p":8,"t":0,"v":0.95},{"p":8,"t":0.4,"v":1.05},{"p":8,"t":0.8,"v":1.02},{"p":8,"t":1.2,"v":0.99},{"p":8,"t":1.6,"v":1.08},
{"p":8,"t":2,"v":1.02},{"p":8,"t":2.4,"v":0.97},{"p":8,"t":2.8,"v":1.04},{"p":8,"t":3.2,"v":1.00},{"p":8,"t":3.6,"v":1.06},{"p":8,"t":4,"v":0.98},{"p":8,"t":4.4,"v":1.03},{"p":8,"t":4.8,"v":0.94},{"p":8,"t":5.2,"v":1.05},{"p":8,"t":5.6,"v":1.01},
{"p":8,"t":6,"v":0.99},{"p":8,"t":6.4,"v":1.04},{"p":8,"t":6.8,"v":1.00},{"p":8,"t":7.2,"v":1.07},{"p":8,"t":7.6,"v":1.02},{"p":8,"t":8,"v":0.96},{"p":8,"t":8.4,"v":1.03},{"p":8,"t":8.8,"v":1.05},{"p":8,"t":9.2,"v":0.98},{"p":8,"t":9.6,"v":1.02},
{"p":8,"t":10,"v":1.04},{"p":8,"t":10.4,"v":0.99},{"p":8,"t":10.8,"v":1.06},{"p":8,"t":11.2,"v":1.01},{"p":8,"t":11.6,"v":0.97},{"p":8,"t":12,"v":1.03},{"p":8,"t":12.4,"v":1.00},{"p":8,"t":12.8,"v":1.05},{"p":8,"t":13.2,"v":0.96},{"p":8,"t":13.6,"v":1.04},
{"p":8,"t":14,"v":1.00},{"p":8,"t":14.4,"v":1.07},{"p":8,"t":14.8,"v":0.98},{"p":8,"t":15.2,"v":1.02},{"p":8,"t":15.6,"v":1.05},{"p":8,"t":16,"v":0.99},{"p":8,"t":16.4,"v":1.03},{"p":8,"t":16.8,"v":0.95},{"p":8,"t":17.2,"v":1.06},{"p":8,"t":17.6,"v":1.01},
{"p":8,"t":18,"v":0.97},{"p":8,"t":18.4,"v":1.03},{"p":8,"t":18.8,"v":1.00},{"p":8,"t":19.2,"v":1.06},{"p":8,"t":19.6,"v":1.02},{"p":8,"t":20,"v":0.98},{"p":8,"t":20.4,"v":1.04},{"p":8,"t":20.8,"v":1.01},{"p":8,"t":21.2,"v":0.96},{"p":8,"t":21.6,"v":1.05},
{"p":8,"t":22,"v":1.02},{"p":8,"t":22.4,"v":0.99},{"p":8,"t":22.8,"v":1.05},{"p":8,"t":23.2,"v":1.00},{"p":8,"t":23.6,"v":1.07},{"p":8,"t":24,"v":0.97},{"p":8,"t":24.4,"v":1.03},{"p":8,"t":24.8,"v":1.01},{"p":8,"t":25.2,"v":1.04},{"p":8,"t":25.6,"v":0.98},{"p":8,"t":26,"v":1.03},
{"p":9,"t":-26,"v":1.05},{"p":9,"t":-25.6,"v":0.99},{"p":9,"t":-25.2,"v":1.03},{"p":9,"t":-24.8,"v":0.96},{"p":9,"t":-24.4,"v":1.08},{"p":9,"t":-24,"v":1.00},{"p":9,"t":-23.6,"v":1.04},{"p":9,"t":-23.2,"v":0.93},{"p":9,"t":-22.8,"v":1.02},{"p":9,"t":-22.4,"v":1.06},
{"p":9,"t":-22,"v":0.98},{"p":9,"t":-21.6,"v":1.03},{"p":9,"t":-21.2,"v":1.07},{"p":9,"t":-20.8,"v":1.00},{"p":9,"t":-20.4,"v":0.95},{"p":9,"t":-20,"v":1.04},{"p":9,"t":-19.6,"v":1.01},{"p":9,"t":-19.2,"v":0.97},{"p":9,"t":-18.8,"v":1.06},{"p":9,"t":-18.4,"v":1.02},
{"p":9,"t":-18,"v":0.99},{"p":9,"t":-17.6,"v":1.05},{"p":9,"t":-17.2,"v":1.02},{"p":9,"t":-16.8,"v":0.96},{"p":9,"t":-16.4,"v":1.08},{"p":9,"t":-16,"v":1.01},{"p":9,"t":-15.6,"v":0.97},{"p":9,"t":-15.2,"v":1.04},{"p":9,"t":-14.8,"v":1.00},{"p":9,"t":-14.4,"v":1.06},
{"p":9,"t":-14,"v":1.03},{"p":9,"t":-13.6,"v":0.98},{"p":9,"t":-13.2,"v":1.05},{"p":9,"t":-12.8,"v":0.94},{"p":9,"t":-12.4,"v":1.02},{"p":9,"t":-12,"v":1.07},{"p":9,"t":-11.6,"v":1.00},{"p":9,"t":-11.2,"v":0.85},{"p":9,"t":-10.8,"v":1.04},{"p":9,"t":-10.4,"v":0.99},
{"p":9,"t":-10,"v":1.24},{"p":9,"t":-9.6,"v":1.02},{"p":9,"t":-9.2,"v":0.80},{"p":9,"t":-8.8,"v":1.06},{"p":9,"t":-8.4,"v":1.01},{"p":9,"t":-8,"v":0.97},{"p":9,"t":-7.6,"v":1.05},{"p":9,"t":-7.2,"v":1.00},{"p":9,"t":-6.8,"v":0.96},{"p":9,"t":-6.4,"v":1.03},
{"p":9,"t":-6,"v":1.07},{"p":9,"t":-5.6,"v":1.00},{"p":9,"t":-5.2,"v":0.98},{"p":9,"t":-4.8,"v":1.04},{"p":9,"t":-4.4,"v":1.01},{"p":9,"t":-4,"v":0.95},{"p":9,"t":-3.6,"v":1.06},{"p":9,"t":-3.2,"v":1.02},{"p":9,"t":-2.8,"v":0.99},{"p":9,"t":-2.4,"v":1.05},
{"p":9,"t":-2,"v":1.00},{"p":9,"t":-1.6,"v":1.03},{"p":9,"t":-1.2,"v":0.96},{"p":9,"t":-0.8,"v":1.08},{"p":9,"t":-0.4,"v":1.02},{"p":9,"t":0,"v":0.99},{"p":9,"t":0.4,"v":1.05},{"p":9,"t":0.8,"v":0.97},{"p":9,"t":1.2,"v":1.03},{"p":9,"t":1.6,"v":1.01},
{"p":9,"t":2,"v":0.98},{"p":9,"t":2.4,"v":1.06},{"p":9,"t":2.8,"v":1.02},{"p":9,"t":3.2,"v":0.95},{"p":9,"t":3.6,"v":1.04},{"p":9,"t":4,"v":1.00},{"p":9,"t":4.4,"v":1.07},{"p":9,"t":4.8,"v":0.99},{"p":9,"t":5.2,"v":1.03},{"p":9,"t":5.6,"v":1.01},
{"p":9,"t":6,"v":1.05},{"p":9,"t":6.4,"v":0.97},{"p":9,"t":6.8,"v":1.02},{"p":9,"t":7.2,"v":1.08},{"p":9,"t":7.6,"v":1.00},{"p":9,"t":8,"v":1.04},{"p":9,"t":8.4,"v":0.98},{"p":9,"t":8.8,"v":1.33},{"p":9,"t":9.2,"v":1.03},{"p":9,"t":9.6,"v":0.99},
{"p":9,"t":10,"v":1.06},{"p":9,"t":10.4,"v":1.01},{"p":9,"t":10.8,"v":0.96},{"p":9,"t":11.2,"v":1.04},{"p":9,"t":11.6,"v":1.00},{"p":9,"t":12,"v":1.07},{"p":9,"t":12.4,"v":0.98},{"p":9,"t":12.8,"v":1.03},{"p":9,"t":13.2,"v":1.05},{"p":9,"t":13.6,"v":0.97},
{"p":9,"t":14,"v":1.02},{"p":9,"t":14.4,"v":1.06},{"p":9,"t":14.8,"v":0.99},{"p":9,"t":15.2,"v":1.04},{"p":9,"t":15.6,"v":1.00},{"p":9,"t":16,"v":0.95},{"p":9,"t":16.4,"v":1.03},{"p":9,"t":16.8,"v":1.08},{"p":9,"t":17.2,"v":1.01},{"p":9,"t":17.6,"v":0.98},
{"p":9,"t":18,"v":1.04},{"p":9,"t":18.4,"v":1.00},{"p":9,"t":18.8,"v":1.06},{"p":9,"t":19.2,"v":0.97},{"p":9,"t":19.6,"v":1.03},{"p":9,"t":20,"v":1.05},{"p":9,"t":20.4,"v":0.99},{"p":9,"t":20.8,"v":1.02},{"p":9,"t":21.2,"v":1.07},{"p":9,"t":21.6,"v":1.00},
{"p":9,"t":22,"v":0.76},{"p":9,"t":22.4,"v":1.03},{"p":9,"t":22.8,"v":1.05},{"p":9,"t":23.2,"v":0.98},{"p":9,"t":23.6,"v":1.10},{"p":9,"t":24,"v":1.02},{"p":9,"t":24.4,"v":1.06},{"p":9,"t":24.8,"v":0.99},{"p":9,"t":25.2,"v":1.04},{"p":9,"t":25.6,"v":1.08},{"p":9,"t":26,"v":1.05},
{"p":10,"t":-26,"v":1.03},{"p":10,"t":-25.6,"v":0.98},{"p":10,"t":-25.2,"v":1.01},{"p":10,"t":-24.8,"v":0.94},{"p":10,"t":-24.4,"v":0.97},{"p":10,"t":-24,"v":1.02},{"p":10,"t":-23.6,"v":0.99},{"p":10,"t":-23.2,"v":1.04},{"p":10,"t":-22.8,"v":0.96},{"p":10,"t":-22.4,"v":1.01},
{"p":10,"t":-22,"v":0.98},{"p":10,"t":-21.6,"v":1.03},{"p":10,"t":-21.2,"v":1.00},{"p":10,"t":-20.8,"v":1.05},{"p":10,"t":-20.4,"v":0.97},{"p":10,"t":-20,"v":1.02},{"p":10,"t":-19.6,"v":0.99},{"p":10,"t":-19.2,"v":0.93},{"p":10,"t":-18.8,"v":0.95},{"p":10,"t":-18.4,"v":0.97},
{"p":10,"t":-18,"v":1.01},{"p":10,"t":-17.6,"v":0.99},{"p":10,"t":-17.2,"v":1.03},{"p":10,"t":-16.8,"v":1.06},{"p":10,"t":-16.4,"v":0.98},{"p":10,"t":-16,"v":1.02},{"p":10,"t":-15.6,"v":1.04},{"p":10,"t":-15.2,"v":0.97},{"p":10,"t":-14.8,"v":1.00},{"p":10,"t":-14.4,"v":1.05},
{"p":10,"t":-14,"v":1.01},{"p":10,"t":-13.6,"v":0.96},{"p":10,"t":-13.2,"v":1.03},{"p":10,"t":-12.8,"v":1.00},{"p":10,"t":-12.4,"v":0.98},{"p":10,"t":-12,"v":1.04},{"p":10,"t":-11.6,"v":1.02},{"p":10,"t":-11.2,"v":0.99},{"p":10,"t":-10.8,"v":1.01},{"p":10,"t":-10.4,"v":0.97},
{"p":10,"t":-10,"v":0.84},{"p":10,"t":-9.6,"v":1.05},{"p":10,"t":-9.2,"v":1.02},{"p":10,"t":-8.8,"v":0.97},{"p":10,"t":-8.4,"v":1.04},{"p":10,"t":-8,"v":1.00},{"p":10,"t":-7.6,"v":0.96},{"p":10,"t":-7.2,"v":1.03},{"p":10,"t":-6.8,"v":1.01},{"p":10,"t":-6.4,"v":1.06},
{"p":10,"t":-6,"v":0.99},{"p":10,"t":-5.6,"v":1.02},{"p":10,"t":-5.2,"v":0.95},{"p":10,"t":-4.8,"v":1.04},{"p":10,"t":-4.4,"v":1.00},{"p":10,"t":-4,"v":0.97},{"p":10,"t":-3.6,"v":1.03},{"p":10,"t":-3.2,"v":1.06},{"p":10,"t":-2.8,"v":0.99},{"p":10,"t":-2.4,"v":1.01},
{"p":10,"t":-2,"v":0.96},{"p":10,"t":-1.6,"v":1.03},{"p":10,"t":-1.2,"v":1.00},{"p":10,"t":-0.8,"v":1.05},{"p":10,"t":-0.4,"v":0.98},{"p":10,"t":0,"v":1.02},{"p":10,"t":0.4,"v":0.95},{"p":10,"t":0.8,"v":1.04},{"p":10,"t":1.2,"v":1.01},{"p":10,"t":1.6,"v":0.99},
{"p":10,"t":2,"v":1.03},{"p":10,"t":2.4,"v":0.97},{"p":10,"t":2.8,"v":1.05},{"p":10,"t":3.2,"v":1.00},{"p":10,"t":3.6,"v":1.02},{"p":10,"t":4,"v":0.98},{"p":10,"t":4.4,"v":1.04},{"p":10,"t":4.8,"v":1.07},{"p":10,"t":5.2,"v":0.99},{"p":10,"t":5.6,"v":1.01},
{"p":10,"t":6,"v":0.96},{"p":10,"t":6.4,"v":1.02},{"p":10,"t":6.8,"v":1.04},{"p":10,"t":7.2,"v":0.99},{"p":10,"t":7.6,"v":1.03},{"p":10,"t":8,"v":1.00},{"p":10,"t":8.4,"v":0.95},{"p":10,"t":8.8,"v":1.05},{"p":10,"t":9.2,"v":1.01},{"p":10,"t":9.6,"v":0.98},
{"p":10,"t":10,"v":1.02},{"p":10,"t":10.4,"v":1.06},{"p":10,"t":10.8,"v":0.99},{"p":10,"t":11.2,"v":1.03},{"p":10,"t":11.6,"v":0.97},{"p":10,"t":12,"v":1.01},{"p":10,"t":12.4,"v":1.04},{"p":10,"t":12.8,"v":0.98},{"p":10,"t":13.2,"v":1.00},{"p":10,"t":13.6,"v":1.05},
{"p":10,"t":14,"v":0.99},{"p":10,"t":14.4,"v":1.02},{"p":10,"t":14.8,"v":0.96},{"p":10,"t":15.2,"v":1.04},{"p":10,"t":15.6,"v":1.01},{"p":10,"t":16,"v":0.98},{"p":10,"t":16.4,"v":1.03},{"p":10,"t":16.8,"v":1.05},{"p":10,"t":17.2,"v":0.97},{"p":10,"t":17.6,"v":1.02},
{"p":10,"t":18,"v":1.00},{"p":10,"t":18.4,"v":0.85},{"p":10,"t":18.8,"v":1.03},{"p":10,"t":19.2,"v":1.06},{"p":10,"t":19.6,"v":1.20},{"p":10,"t":20,"v":0.98},{"p":10,"t":20.4,"v":1.04},{"p":10,"t":20.8,"v":1.01},{"p":10,"t":21.2,"v":1.07},{"p":10,"t":21.6,"v":0.99},
{"p":10,"t":22,"v":1.03},{"p":10,"t":22.4,"v":0.97},{"p":10,"t":22.8,"v":1.05},{"p":10,"t":23.2,"v":1.00},{"p":10,"t":23.6,"v":1.02},{"p":10,"t":24,"v":1.06},{"p":10,"t":24.4,"v":0.98},{"p":10,"t":24.8,"v":1.04},{"p":10,"t":25.2,"v":1.01},{"p":10,"t":25.6,"v":0.99},{"p":10,"t":26,"v":1.02}
]},
"data": {"name": "pts"},
"transform": [{"lookup": "p", "from": {"data": {"name": "info"}, "key": "p", "fields": ["lab"]}}],
"facet": {"row": {"field": "lab", "type": "nominal", "sort": "ascending", "title": "Normalized unocculted star signal",
  "header": {"labelOrient": "right", "labelAngle": 0, "labelAlign": "center", "labelAnchor": "start", "labelBaseline": "top", "labelExpr": "split('|' + datum.value, '|')", "labelFontSize": 5.8, "labelLineHeight": 5.3, "labelColor": "#333", "labelPadding": -21, "titleOrient": "left", "titleFontSize": 9.5, "titleFontWeight": "normal", "titleColor": "#333", "titlePadding": -4}}},
"spacing": {"row": 8.6},
"spec": {
 "width": 325, "height": 32,
 "layer": [
  {"mark": {"type": "line", "stroke": "#bbbbbb", "strokeWidth": 0.6},
   "encoding": {
    "x": {"field": "t", "type": "quantitative", "scale": {"domain": [-26.4, 26.4], "nice": false, "zero": false},
      "title": "Time (seconds) relative to reference orbit prediction",
      "axis": {"values": [-26,-25,-24,-23,-22,-21,-20,-19,-18,-17,-16,-15,-14,-13,-12,-11,-10,-9,-8,-7,-6,-5,-4,-3,-2,-1,0,1,2,3,4,5,6,7,8,9,10,11,12,13,14,15,16,17,18,19,20,21,22,23,24,25,26],
        "labelExpr": "datum.value % 10 === 0 ? format(datum.value, 'd') : ''",
        "tickSize": {"condition": {"test": "datum.value % 10 === 0", "value": 3.5}, "value": 2},
        "labelPadding": 1, "titlePadding": 2, "labelFlush": false, "labelOverlap": false}},
    "y": {"field": "v", "type": "quantitative", "scale": {"domain": [0, 1.5], "nice": false},
      "title": null,
      "axis": {"orient": "left", "values": [0, 0.5, 1, 1.5],
        "labelExpr": "datum.value === 0 || datum.value === 1.5 ? format(datum.value, '.1f') : ''",
        "tickSize": {"condition": {"test": "datum.value === 0 || datum.value === 1.5", "value": 3.5}, "value": 2},
        "labelPadding": 1, "labelFlush": false, "labelOverlap": false}}}},
  {"mark": {"type": "circle", "size": 6, "color": "black", "opacity": 1},
   "encoding": {
    "x": {"field": "t", "type": "quantitative", "scale": {"domain": [-26.4, 26.4], "nice": false, "zero": false},
      "title": "Time (seconds) relative to reference orbit prediction",
      "axis": {"values": [-26,-25,-24,-23,-22,-21,-20,-19,-18,-17,-16,-15,-14,-13,-12,-11,-10,-9,-8,-7,-6,-5,-4,-3,-2,-1,0,1,2,3,4,5,6,7,8,9,10,11,12,13,14,15,16,17,18,19,20,21,22,23,24,25,26],
        "labelExpr": "datum.value % 10 === 0 ? format(datum.value, 'd') : ''",
        "tickSize": {"condition": {"test": "datum.value % 10 === 0", "value": 3.5}, "value": 2},
        "labelPadding": 1, "titlePadding": 2, "labelFlush": false, "labelOverlap": false}},
    "y": {"field": "v", "type": "quantitative", "scale": {"domain": [0, 1.5], "nice": false},
      "title": null,
      "axis": {"orient": "right", "values": [0, 0.5, 1, 1.5], "labels": false,
        "tickSize": {"condition": {"test": "datum.value === 0 || datum.value === 1.5", "value": 3.5}, "value": 2}}}}}
 ],
 "resolve": {"axis": {"y": "independent"}}
}
}
